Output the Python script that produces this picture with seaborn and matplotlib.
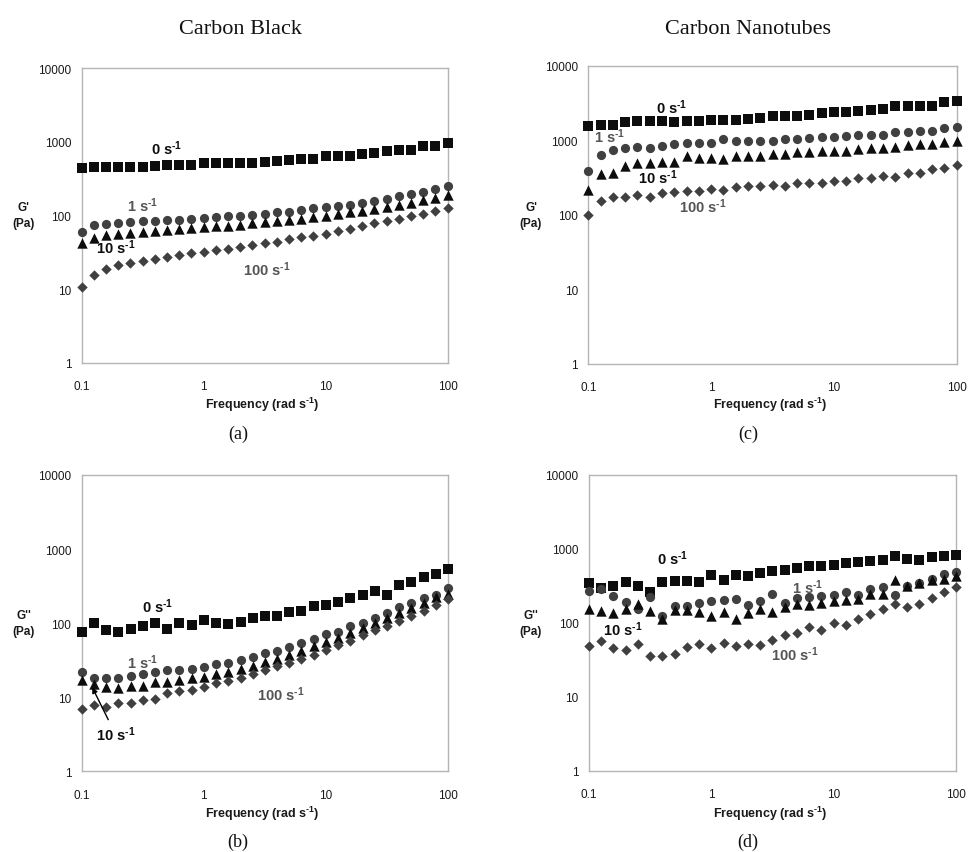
import numpy as np
import pandas as pd
import matplotlib
matplotlib.use("Agg")
import matplotlib.pyplot as plt
import seaborn as sns

sns.set_style("white")
plt.rcParams['font.family'] = ['Liberation Sans', 'DejaVu Sans']
plt.rcParams['mathtext.fontset'] = 'custom'
plt.rcParams['mathtext.rm'] = 'Liberation Sans:bold'
plt.rcParams['mathtext.bf'] = 'Liberation Sans:bold'
plt.rcParams['mathtext.default'] = 'bf'

# ---------------- data ----------------
freq = [0.1, 0.126, 0.158, 0.2, 0.251, 0.316, 0.398, 0.501, 0.631, 0.794,
        1, 1.26, 1.58, 2, 2.51, 3.16, 3.98, 5.01, 6.31, 7.94,
        10, 12.6, 15.8, 20, 25.1, 31.6, 39.8, 50.1, 63.1, 79.4, 100]

rates = ["0", "1", "10", "100"]

# (a) Carbon black G'
cb_g1_0 = [440, 459, 459, 459, 459, 459, 473, 489, 489, 489, 509, 520, 520, 520, 520, 525,
           547, 570, 589, 589, 632, 632, 646, 681, 703, 755, 780, 780, 865, 884, 960]
cb_g1_1 = [60, 74, 76, 79, 82, 83, 85, 87, 88, 91, 92, 94, 97, 99, 103, 104, 110, 113, 120,
           125, 129, 135, 140, 150, 155, 170, 185, 195, 210, 228, 250]
cb_g1_10 = [42, 49.5, 54, 56, 58, 60, 62, 64, 66, 68, 69, 71, 73, 75, 78, 81, 84, 88, 91, 95,
            99, 105, 110, 116, 122, 129, 140, 150, 164, 175, 190]
cb_g1_100 = [10.7, 15.4, 18.8, 21, 22.7, 24.4, 25.7, 27.7, 29, 31, 32.3, 33.6, 34.7, 37, 39.8,
             42, 43.7, 47.5, 50.5, 52.8, 56.5, 61.7, 66, 71.5, 78, 83, 91, 98.5, 106, 116, 127]

# (b) Carbon black G''
cb_g2_0 = [77, 100, 80.5, 77, 83, 91, 100.5, 83, 100, 94, 109, 100.5, 97, 104, 118, 123, 123,
           142, 147, 168, 177, 194, 220, 238, 273, 240, 325, 363, 425, 458, 535]
cb_g2_1 = [21.6, 18.1, 18.1, 18.1, 19.1, 20.5, 21.6, 23.2, 23.2, 24.2, 25.8, 28, 29.2, 32,
           34.4, 39.4, 42.4, 47.9, 53.8, 60.8, 71, 77, 92, 102, 119, 136, 163, 186, 217, 243, 296]
cb_g2_10 = [17.2, 15, 13.9, 13.3, 14.3, 14.3, 16.3, 16.3, 17, 18, 18.9, 20.5, 22.1, 24, 26.6,
            30.2, 33.2, 37.4, 42.4, 49.5, 56, 63, 73.3, 85.6, 100, 115.6, 139, 162, 190, 222, 246]
cb_g2_100 = [6.9, 7.8, 7.3, 8.3, 8.4, 9.25, 9.6, 11.3, 12.1, 12.6, 13.7, 15.4, 16.5, 18.3, 20.7,
             23.2, 26.6, 28.9, 32.7, 37.4, 43.3, 50.5, 57.8, 68.9, 80.5, 92, 107, 125, 147, 175, 215]

# (c) Carbon nanotubes G'
cnt_g1_0 = [1566, 1600, 1600, 1740, 1790, 1820, 1820, 1770, 1820, 1820, 1880, 1880, 1880, 1920,
            1965, 2090, 2100, 2100, 2180, 2300, 2360, 2360, 2460, 2540, 2630, 2920, 2850, 2920,
            2850, 3250, 3400]
cnt_g1_1 = [390, 632, 746, 779, 803, 779, 828, 890, 917, 917, 917, 1038, 986, 986, 986, 986,
            1040, 1040, 1060, 1110, 1110, 1150, 1180, 1180, 1180, 1280, 1280, 1350, 1350, 1450, 1490]
cnt_g1_10 = [215, 352, 363, 446, 495, 495, 505, 515, 620, 572, 572, 560, 608, 620, 612, 653,
             655, 703, 690, 725, 725, 725, 760, 780, 800, 820, 863, 890, 890, 955, 985]
cnt_g1_100 = [100, 152, 172, 172, 185, 172, 196, 200, 207, 207, 222, 215, 234, 241, 241, 251,
              241, 264, 267, 267, 287, 287, 312, 312, 335, 325, 363, 363, 412, 420, 470]

# (d) Carbon nanotubes G''
cnt_g2_0 = [347, 295, 315, 362, 315, 260, 362, 372, 372, 362, 449, 384, 449, 436, 468, 500, 514,
            555, 597, 597, 616, 646, 674, 697, 719, 795, 742, 719, 780, 815, 830]
cnt_g2_1 = [268, 287, 229, 190, 155, 222, 125, 171, 171, 186, 196, 206, 211, 177, 196, 246, 186,
            219, 226, 231, 236, 261, 236, 284, 308, 240, 321, 349, 395, 466, 486]
cnt_g2_10 = [155, 147, 137, 157, 181, 147, 115, 151, 151, 142, 123, 142, 115, 137, 157, 140, 165,
             178, 173, 188, 198, 204, 208, 248, 248, 379, 315, 342, 379, 395, 437]
cnt_g2_100 = [48.4, 57.6, 45.5, 43.6, 52, 35.4, 35.4, 38, 46.8, 52, 45.5, 54.5, 48.4, 52, 50,
              59.5, 68.6, 72.5, 89, 80.5, 100, 94, 114, 134, 156, 182, 166, 178, 219, 264, 309]

x_ticks = [0.1, 1, 10, 100]
x_ticklabels = ["0.1", "1", "10", "100"]
y_ticks = [1, 10, 100, 1000, 10000]
y_ticklabels = ["1", "10", "100", "1000", "10000"]

titles = ["Carbon Black", "Carbon Nanotubes"]
panel_letters = ["(a)", "(b)", "(c)", "(d)"]

# ---------------- styling ----------------
markers = {"0": "s", "1": "o", "10": "^", "100": "D"}
colors = {"0": "#0d0d0d", "1": "#404040", "10": "#0d0d0d", "100": "#404040"}
sizes = {"0": 48, "1": 44, "10": 56, "100": 28}
text_colors = {"0": "#0d0d0d", "1": "#555555", "10": "#0d0d0d", "100": "#555555"}

W, H = 970, 853
fig = plt.figure(figsize=(W / 100, H / 100), dpi=100)


def rect(l, t, r, b):
    return [l / W, 1 - b / H, (r - l) / W, (b - t) / H]


panels = [
    dict(rect=rect(81.7, 69, 447.7, 364), series=[cb_g1_0, cb_g1_1, cb_g1_10, cb_g1_100],
         letter="(a)",
         labels={"0": (0.5, 830), "1": (0.318, 140), "10": (0.19, 38), "100": (3.28, 19)}),
    dict(rect=rect(588.4, 66.7, 956.7, 365), series=[cnt_g1_0, cnt_g1_1, cnt_g1_10, cnt_g1_100],
         letter="(c)",
         labels={"0": (0.48, 2790), "1": (0.148, 1140), "10": (0.37, 321), "100": (0.857, 131)}),
    dict(rect=rect(81.7, 476, 448, 772.3), series=[cb_g2_0, cb_g2_1, cb_g2_10, cb_g2_100],
         letter="(b)",
         labels={"0": (0.418, 173), "1": (0.318, 30.3), "10": (0.19, 3.19), "100": (4.27, 11.1)}),
    dict(rect=rect(589, 476, 956, 772), series=[cnt_g2_0, cnt_g2_1, cnt_g2_10, cnt_g2_100],
         letter="(d)",
         labels={"0": (0.48, 773), "1": (6.1, 306), "10": (0.188, 85), "100": (4.83, 38)}),
]

spine_col = "#b4b4b4"
for i, p in enumerate(panels):
    ax = fig.add_axes(p["rect"])
    for rate, vals in zip(rates, p["series"]):
        df = pd.DataFrame({"freq": freq, "val": vals})
        sns.scatterplot(data=df, x="freq", y="val", ax=ax, marker=markers[rate],
                        color=colors[rate], s=sizes[rate], linewidth=0, legend=False,
                        clip_on=False, zorder=3)
    ax.set_xscale("log")
    ax.set_yscale("log")
    ax.set_xlim(0.1, 100)
    ax.set_ylim(1, 10000)
    ax.set_xticks(x_ticks)
    ax.set_xticklabels(x_ticklabels)
    ax.set_yticks(y_ticks)
    ax.set_yticklabels(y_ticklabels)
    ax.minorticks_off()
    ax.set_xlabel("")
    ax.set_ylabel("")
    for sp in ax.spines.values():
        sp.set_visible(True)
        sp.set_color(spine_col)
        sp.set_linewidth(1.0)
    ax.tick_params(axis="both", which="major", direction="out", length=3.5, width=1,
                   color=spine_col, labelsize=8.5, labelcolor="#1a1a1a", pad=4)
    ax.tick_params(axis="x", pad=9)
    for rate, (lx, ly) in p["labels"].items():
        ax.text(lx, ly, rate + r" s$^{\text{-1}}$", ha="center", va="center", fontsize=10.5,
                fontweight="bold", color=text_colors[rate], zorder=4)
    if p["letter"] == "(b)":
        ax.annotate("", xy=(0.122, 13.6), xytext=(0.165, 4.98),
                    arrowprops=dict(arrowstyle="-|>", color="black", lw=1.0,
                                    mutation_scale=8, shrinkA=0, shrinkB=0))

# y labels
for cx, cy, t in [(24, 216, "G'\n(Pa)"), (531, 216, "G'\n(Pa)"),
                  (24, 624, "G''\n(Pa)"), (531, 624, "G''\n(Pa)")]:
    fig.text(cx / W, 1 - cy / H, t, ha="center", va="center", fontsize=8.5,
             fontweight="bold", color="#1a1a1a", linespacing=1.5)

# x labels
for cx, cy in [(262, 405), (770, 405), (262, 814), (770, 814)]:
    fig.text(cx / W, 1 - cy / H, r"Frequency (rad s$^{\text{-1}}$)", ha="center", va="center",
             fontsize=9, fontweight="bold", color="#1a1a1a")

# column titles
for cx, t in [(240, titles[0]), (748, titles[1])]:
    fig.text(cx / W, 1 - 30 / H, t, ha="center", va="center", fontsize=16,
             family="Liberation Serif", color="#111111")

# panel letters
for cx, cy, t in [(238, 434, "(a)"), (748, 434, "(c)"), (238, 842, "(b)"), (748, 842, "(d)")]:
    fig.text(cx / W, 1 - cy / H, t, ha="center", va="center", fontsize=13,
             family="Liberation Serif", color="#111111")

fig.savefig("out.png", dpi=100, facecolor="white")
